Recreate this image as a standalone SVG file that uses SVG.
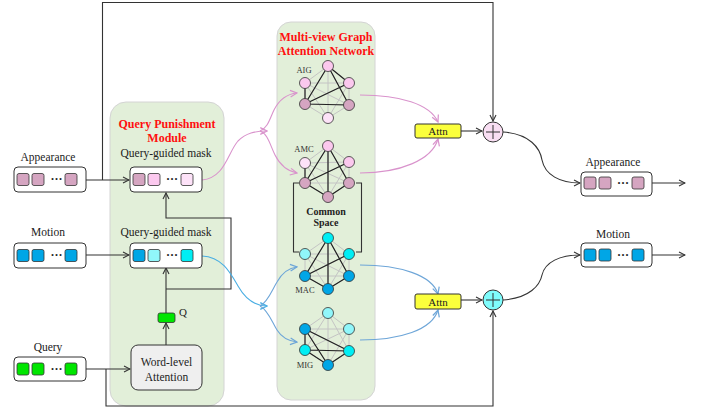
<svg xmlns="http://www.w3.org/2000/svg" width="704" height="413" viewBox="0 0 704 413">
<defs>
<style>
text{font-family:"Liberation Serif","Times New Roman",serif;fill:#222}
.lbl{font-size:11.5px;text-anchor:middle}
.ttl{font-size:12px;font-weight:bold;fill:#ff1010;text-anchor:middle}
.gl{font-size:8.5px;fill:#333;text-anchor:middle}
.box{fill:#fff;stroke:#333;stroke-width:1}
.sq{stroke:#333;stroke-width:0.8}
.ln{fill:none;stroke:#333;stroke-width:1.1}
.pk{fill:none;stroke:#d993cc;stroke-width:1.1}
.bl{fill:none;stroke:#4aaee3;stroke-width:1.1}
.bl2{fill:none;stroke:#6ea6d8;stroke-width:1.1}
.ge{stroke:#c4c4c4;stroke-width:1}
.gd{stroke:#222;stroke-width:1.2}
.nd{stroke:#333;stroke-width:0.8}
.panel{fill:#e2efd9;stroke:#d4d4d4;stroke-width:1}
.dp{fill:#d5a5c1}.lp{fill:#fbc8ee}.vp{fill:#fde2f8}
.db{fill:#00a6e6}.cy{fill:#00eef4}.lc{fill:#90f6fa}
.gr{fill:#00e600}
</style>
<marker id="ah" viewBox="0 0 8 8" refX="7" refY="4" markerWidth="8" markerHeight="8" markerUnits="userSpaceOnUse" orient="auto"><path d="M1,1 L7,4 L1,7" fill="none" stroke="#333" stroke-width="1.1"/></marker>
<marker id="ahp" viewBox="0 0 8 8" refX="7" refY="4" markerWidth="9" markerHeight="9" markerUnits="userSpaceOnUse" orient="auto"><path d="M1,1 L7,4 L1,7" fill="none" stroke="#d993cc" stroke-width="1.1"/></marker>
<marker id="ahb" viewBox="0 0 8 8" refX="7" refY="4" markerWidth="9" markerHeight="9" markerUnits="userSpaceOnUse" orient="auto"><path d="M1,1 L7,4 L1,7" fill="none" stroke="#4aaee3" stroke-width="1.1"/></marker>
<marker id="ahb2" viewBox="0 0 8 8" refX="7" refY="4" markerWidth="9" markerHeight="9" markerUnits="userSpaceOnUse" orient="auto"><path d="M1,1 L7,4 L1,7" fill="none" stroke="#6ea6d8" stroke-width="1.1"/></marker>
</defs>
<rect width="704" height="413" fill="#fff"/>

<g id="qpm-panel">
<rect class="panel" x="110" y="102" width="114" height="304" rx="16"/>
<text class="ttl" x="167" y="128">Query Punishment</text>
<text class="ttl" x="167" y="142">Module</text>
</g>
<g id="mvgan-panel">
<rect class="panel" x="277" y="22" width="98" height="378" rx="14"/>
<text class="ttl" x="326" y="41">Multi-view Graph</text>
<text class="ttl" x="326" y="55">Attention Network</text>
</g>

<g id="connectors">
<path class="ln" d="M86,180 H129" marker-end="url(#ah)"/>
<path class="ln" d="M102.5,180 V2.5 H493 V121" marker-end="url(#ah)"/>
<path class="ln" d="M86,255 H129" marker-end="url(#ah)"/>
<path class="ln" d="M86,369 H130" marker-end="url(#ah)"/>
<path class="ln" d="M106,369 V406 H493 V311" marker-end="url(#ah)"/>
<path class="ln" d="M166,345 V323" marker-end="url(#ah)"/>
<path class="ln" d="M166,313 V268" marker-end="url(#ah)"/>
<path class="ln" d="M166,289 H231 V218 H166 V193" marker-end="url(#ah)"/>
<path class="pk" d="M202,180 C225,178 228,152 238,141 C246,133 255,131 267,131" marker-end="url(#ahp)"/>
<path class="pk" d="M260,131 C268,128 270,118 274,110 C279,100 287,94 297,93" marker-end="url(#ahp)"/>
<path class="pk" d="M260,131 C268,134 270,145 275,155 C280,165 287,171 297,173" marker-end="url(#ahp)"/>
<path class="bl" d="M202,256 C222,257 230,272 238,286 C246,300 255,306 267,306" marker-end="url(#ahb)"/>
<path class="bl2" d="M260,306 C268,302 272,290 277,282 C282,273 288,268 297,267" marker-end="url(#ahb2)"/>
<path class="bl2" d="M260,306 C268,310 272,322 277,330 C282,338 288,341 297,342" marker-end="url(#ahb2)"/>
<path class="pk" d="M360,95 C400,95 430,104 438,122" marker-end="url(#ahp)"/>
<path class="pk" d="M360,173 C400,173 432,160 438,139" marker-end="url(#ahp)"/>
<path class="bl2" d="M360,265 C400,265 432,275 438,294" marker-end="url(#ahb2)"/>
<path class="bl2" d="M360,340 C400,340 432,330 438,310" marker-end="url(#ahb2)"/>
<path class="ln" d="M461,131 H482" marker-end="url(#ah)"/>
<path class="ln" d="M461,300 H482" marker-end="url(#ah)"/>
<path class="ln" d="M503,132 C530,134 540,148 542,160 C545,175 560,183 580,183" marker-end="url(#ah)"/>
<path class="ln" d="M503,300 C530,298 540,285 542,275 C545,262 560,255 580,255" marker-end="url(#ah)"/>
<path class="ln" d="M652,183 H685" marker-end="url(#ah)"/>
<path class="ln" d="M652,255 H685" marker-end="url(#ah)"/>
</g>

<g id="appearance-in">
<text class="lbl" x="48" y="161">Appearance</text>
<rect class="box" x="14" y="167" width="72" height="25" rx="4"/>
<rect class="sq dp" x="17" y="173.5" width="12" height="12" rx="2"/>
<rect class="sq dp" x="32" y="173.5" width="12" height="12" rx="2"/>
<text x="56.5" y="183" font-size="12" font-weight="bold" text-anchor="middle">···</text>
<rect class="sq dp" x="65" y="173.5" width="12" height="12" rx="2"/>
</g>
<g id="motion-in">
<text class="lbl" x="48" y="236">Motion</text>
<rect class="box" x="14" y="243" width="72" height="25" rx="4"/>
<rect class="sq db" x="17" y="249.5" width="12" height="12" rx="2"/>
<rect class="sq db" x="32" y="249.5" width="12" height="12" rx="2"/>
<text x="56.5" y="259" font-size="12" font-weight="bold" text-anchor="middle">···</text>
<rect class="sq db" x="65" y="249.5" width="12" height="12" rx="2"/>
</g>
<g id="query-in">
<text class="lbl" x="48" y="351">Query</text>
<rect class="box" x="14" y="357" width="72" height="24" rx="4"/>
<rect class="sq gr" x="17" y="363" width="12" height="12" rx="2"/>
<rect class="sq gr" x="32" y="363" width="12" height="12" rx="2"/>
<text x="56.5" y="372.5" font-size="12" font-weight="bold" text-anchor="middle">···</text>
<rect class="sq gr" x="65" y="363" width="12" height="12" rx="2"/>
</g>

<g id="mask-appearance">
<text class="lbl" x="166" y="157">Query-guided mask</text>
<rect class="box" x="130" y="167" width="72" height="25" rx="4"/>
<rect class="sq dp" x="133" y="173.5" width="12" height="12" rx="2"/>
<rect class="sq lp" x="148" y="173.5" width="12" height="12" rx="2"/>
<text x="172" y="183" font-size="12" font-weight="bold" text-anchor="middle">···</text>
<rect class="sq vp" x="181" y="173.5" width="12" height="12" rx="2"/>
</g>
<g id="mask-motion">
<text class="lbl" x="166" y="236">Query-guided mask</text>
<rect class="box" x="130" y="243" width="72" height="25" rx="4"/>
<rect class="sq db" x="133" y="249.5" width="12" height="12" rx="2"/>
<rect class="sq lc" x="148" y="249.5" width="12" height="12" rx="2"/>
<text x="172" y="259" font-size="12" font-weight="bold" text-anchor="middle">···</text>
<rect class="sq cy" x="181" y="249.5" width="12" height="12" rx="2"/>
</g>
<g id="q-vector">
<rect class="sq gr" x="158" y="313" width="17" height="9.5" rx="2"/>
<text x="179" y="316" font-size="11">Q</text>
</g>
<g id="word-attention">
<rect x="131" y="345" width="71" height="45" rx="7" fill="#efefef" stroke="#333" stroke-width="1"/>
<text class="lbl" x="166.5" y="366">Word-level</text>
<text class="lbl" x="166.5" y="381">Attention</text>
</g>

<g id="aig">
<path class="ge" d="M328,66 L305,83 M328,66 L349,83 M328,66 L305,104 M328,66 L349,105 M328,66 L328,118 M305,83 L349,83 M305,83 L305,104 M305,83 L349,105 M305,83 L328,118 M349,83 L305,104 M349,83 L349,105 M349,83 L328,118 M305,104 L349,105 M305,104 L328,118 M349,105 L328,118"/>
<path class="gd" d="M328,66 L349,83 M328,66 L305,104 M328,66 L349,105 M305,104 L349,83 M305,104 L349,105 M305,83 L305,104"/>
<circle class="nd lp" cx="328" cy="66" r="5.5"/>
<circle class="nd lp" cx="305" cy="83" r="5.5"/>
<circle class="nd lp" cx="349" cy="83" r="5.5"/>
<circle class="nd dp" cx="305" cy="104" r="5.5"/>
<circle class="nd dp" cx="349" cy="105" r="5.5"/>
<circle class="nd vp" cx="328" cy="118" r="5.5"/>
<text class="gl" x="304" y="73">AIG</text>
</g>
<g id="amc">
<path class="ge" d="M328,146 L305,163 M328,146 L349,162 M328,146 L305,183 M328,146 L349,183 M328,146 L328,197 M305,163 L349,162 M305,163 L305,183 M305,163 L349,183 M305,163 L328,197 M349,162 L305,183 M349,162 L349,183 M349,162 L328,197 M305,183 L349,183 M305,183 L328,197 M349,183 L328,197"/>
<path class="gd" d="M328,146 L305,183 M328,146 L328,197 M328,146 L349,183 M305,183 L349,162 M305,183 L328,197 M328,197 L349,183 M305,163 L305,183"/>
<circle class="nd lp" cx="328" cy="146" r="5.5"/>
<circle class="nd vp" cx="305" cy="163" r="5.5"/>
<circle class="nd lp" cx="349" cy="162" r="5.5"/>
<circle class="nd dp" cx="305" cy="183" r="5.5"/>
<circle class="nd dp" cx="349" cy="183" r="5.5"/>
<circle class="nd dp" cx="328" cy="197" r="5.5"/>
<text class="gl" x="304" y="152">AMC</text>
</g>
<g id="common-space">
<path class="ln" d="M299,183 H293.5 V252 H299 M356,183 H361.5 V252 H356"/>
<text x="326" y="215" font-size="10" font-weight="bold" text-anchor="middle">Common</text>
<text x="326" y="226" font-size="10" font-weight="bold" text-anchor="middle">Space</text>
</g>
<g id="mac">
<path class="ge" d="M328,238 L305,254 M328,238 L349,254 M328,238 L305,276 M328,238 L349,276 M328,238 L328,289 M305,254 L349,254 M305,254 L305,276 M305,254 L349,276 M305,254 L328,289 M349,254 L305,276 M349,254 L349,276 M349,254 L328,289 M305,276 L349,276 M305,276 L328,289 M349,276 L328,289"/>
<path class="gd" d="M328,238 L305,276 M328,238 L328,289 M328,238 L349,276 M305,276 L349,254 M305,276 L328,289 M328,289 L349,276"/>
<circle class="nd cy" cx="328" cy="238" r="5.5"/>
<circle class="nd lc" cx="305" cy="254" r="5.5"/>
<circle class="nd cy" cx="349" cy="254" r="5.5"/>
<circle class="nd db" cx="305" cy="276" r="5.5"/>
<circle class="nd db" cx="349" cy="276" r="5.5"/>
<circle class="nd db" cx="328" cy="289" r="5.5"/>
<text class="gl" x="305" y="293">MAC</text>
</g>
<g id="mig">
<path class="ge" d="M328,313 L305,329 M328,313 L349,329 M328,313 L305,350 M328,313 L349,351 M328,313 L328,365 M305,329 L349,329 M305,329 L305,350 M305,329 L349,351 M305,329 L328,365 M349,329 L305,350 M349,329 L349,351 M349,329 L328,365 M305,350 L349,351 M305,350 L328,365 M349,351 L328,365"/>
<path class="gd" d="M305,329 L349,351 M305,329 L328,365 M305,329 L305,350 M305,350 L349,351 M305,350 L328,365 M349,351 L328,365"/>
<circle class="nd lc" cx="328" cy="313" r="5.5"/>
<circle class="nd db" cx="305" cy="329" r="5.5"/>
<circle class="nd lc" cx="349" cy="329" r="5.5"/>
<circle class="nd cy" cx="305" cy="350" r="5.5"/>
<circle class="nd cy" cx="349" cy="351" r="5.5"/>
<circle class="nd db" cx="328" cy="365" r="5.5"/>
<text class="gl" x="305" y="368">MIG</text>
</g>

<g id="attn-appearance">
<rect x="415" y="124" width="46" height="14" rx="2" fill="#fbff3c" stroke="#333" stroke-width="1"/>
<text x="438" y="135" font-size="11" text-anchor="middle">Attn</text>
</g>
<g id="attn-motion">
<rect x="415" y="294" width="46" height="15" rx="2" fill="#fbff3c" stroke="#333" stroke-width="1"/>
<text x="438" y="305.5" font-size="11" text-anchor="middle">Attn</text>
</g>
<g id="plus-appearance">
<circle cx="493" cy="132" r="10" fill="#f9def3" stroke="#333" stroke-width="1"/>
<path d="M486,132 H500 M493,125 V139" stroke="#333" stroke-width="1"/>
</g>
<g id="plus-motion">
<circle cx="493" cy="300" r="10" fill="#7ffcfc" stroke="#333" stroke-width="1"/>
<path d="M486,300 H500 M493,293 V307" stroke="#333" stroke-width="1"/>
</g>

<g id="appearance-out">
<text class="lbl" x="613" y="166">Appearance</text>
<rect class="box" x="581" y="172" width="71" height="24" rx="4"/>
<rect class="sq dp" x="584" y="177" width="12" height="12" rx="2"/>
<rect class="sq dp" x="599" y="177" width="12" height="12" rx="2"/>
<text x="623" y="186.5" font-size="12" font-weight="bold" text-anchor="middle">···</text>
<rect class="sq dp" x="632" y="177" width="12" height="12" rx="2"/>
</g>
<g id="motion-out">
<text class="lbl" x="613" y="238">Motion</text>
<rect class="box" x="581" y="243" width="71" height="24" rx="4"/>
<rect class="sq db" x="584" y="249" width="12" height="12" rx="2"/>
<rect class="sq db" x="599" y="249" width="12" height="12" rx="2"/>
<text x="623" y="258.5" font-size="12" font-weight="bold" text-anchor="middle">···</text>
<rect class="sq db" x="632" y="249" width="12" height="12" rx="2"/>
</g>
</svg>
